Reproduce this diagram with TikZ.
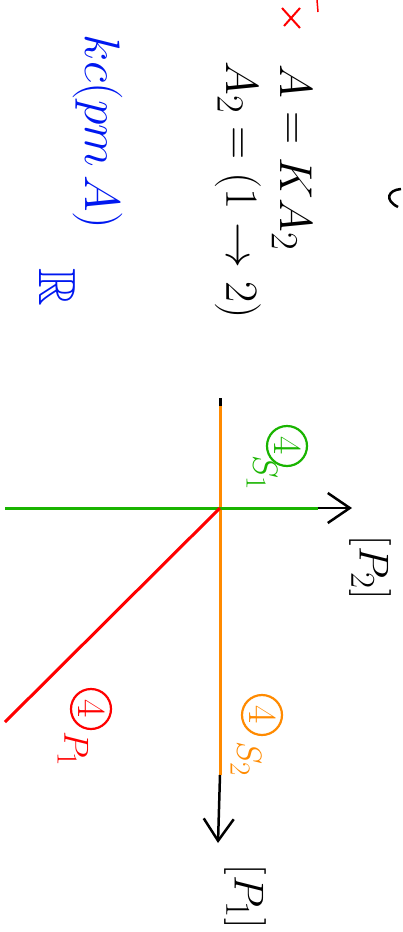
\documentclass[tikz,border=0pt]{standalone}
\usepackage{tikz}
\usepackage{amssymb}
\usetikzlibrary{arrows.meta,positioning,calc}
\usepackage{xcolor}
\definecolor{pgreen}{HTML}{19B400}
\definecolor{porange}{HTML}{FF8A00}
\definecolor{pred}{HTML}{FF0000}
\definecolor{pblue}{HTML}{0018F0}

\begin{document}
\begin{tikzpicture}[x=1pt,y=-1pt,
        ax/.style={line width=3pt},
        tip/.style={-{Straight Barb[length=22pt,width=30pt,line width=2.5pt]},line width=2.5pt},
        lbl/.style={rotate=-90,inner sep=0pt,font=\Huge},
        big/.style={lbl,scale=1.85},
        mid/.style={lbl,scale=1.4},
        ring/.style={circle,draw,line width=2.2pt,minimum size=40pt,inner sep=0pt,rotate=-90,
          font=\Huge}]
        \useasboundingbox (0,0) rectangle (403,932);
        % axes
        \coordinate (O) at (220,508);
        \coordinate (top) at (220,398);
        \coordinate (otop) at (220,406);
        \coordinate (oend) at (220,775);
        \coordinate (bot) at (218,843);
        \coordinate (gl) at (5,508);
        \coordinate (gend) at (318,508);
        \coordinate (right) at (352,508);
        \coordinate (rend) at (5,722);
        \draw[ax] (top)--(otop);
        \draw[ax,porange] (otop)--(oend);
        \draw[tip] (oend)--(bot);
        \draw[ax,pgreen] (gl)--(gend);
        \draw[tip] (gend)--(right);
        \draw[ax,pred] (O)--(rend);
        % axis names
        \node[mid,scale=1.2] (p2) at (370,568) {$[P_2]$};
        \node[mid,scale=1.2] (p1) at (245,897) {$[P_1]$};
        % line labels
        \node[ring,pgreen] (g4) at (287,446) {\scalebox{1.6}{$4$}};
        \node[mid,pgreen] (s1) at (262,473) {$S_1$};
        \node[ring,porange] (o4) at (262,715) {\scalebox{1.6}{$4$}};
        \node[mid,porange] (s2) at (246,759) {$S_2$};
        \node[ring,pred] (r4) at (91,709) {\scalebox{1.6}{$4$}};
        \node[mid,pred] (pr) at (73,749) {$P_1$};
        % notes
        \node[big] (eq1) at (292,158) {$A = KA_2$};
        \node[big] (eq2) at (238,190) {$A_2 = (1 \to 2)$};
        \node[lbl,pblue,scale=2] (kc) at (98,132) {$kc(pm\,A)$};
        \node[lbl,pblue,scale=2.1] (rr) at (57,287) {$\mathbb{R}$};
        % marks
        \draw[pred,line width=2pt] (282,8)--(300,28) (300,8)--(284,26);
        \draw[pred,line width=1.5pt] (317,0)--(318,12);
        \draw[line width=2.5pt] (401,189) .. controls (388,190) and (384,200) .. (398,207);
\end{tikzpicture}
\end{document}
